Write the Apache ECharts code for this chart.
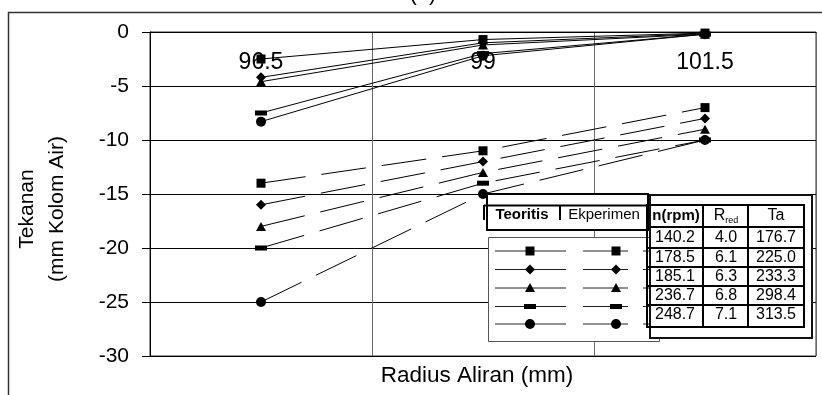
<!DOCTYPE html>
<html><head><meta charset="utf-8">
<script src="https://cdn.jsdelivr.net/npm/echarts@6/dist/echarts.min.js"></script>
<style>html,body{margin:0;padding:0;background:#fff}#c{width:822px;height:395px}</style>
</head><body><div id="c"></div>
<script>
// ---- data ----
const categories = ['96.5', '99', '101.5'];
// Teoritis (solid lines)
const teoritis1 = [-2.5, -0.7, -0.1];
const teoritis2 = [-4.2, -1.0, -0.15];
const teoritis3 = [-4.6, -1.2, -0.2];
const teoritis4 = [-7.5, -2.0, -0.2];
const teoritis5 = [-8.3, -2.2, -0.2];
// Eksperimen (dashed lines)
const eksperimen1 = [-14, -11, -7];
const eksperimen2 = [-16, -12, -8];
const eksperimen3 = [-18, -13, -9];
const eksperimen4 = [-20, -14, -10];
const eksperimen5 = [-25, -15, -10];
// table
const rpmValues = [140.2, 178.5, 185.1, 236.7, 248.7];
const rRedValues = [4.0, 6.1, 6.3, 6.8, 7.1];
const taValues = [176.7, 225.0, 233.3, 298.4, 313.5];
const yMin = -30, yMax = 0, yStep = 5;

const FONT = '"Liberation Sans", Arial, sans-serif';
const markers = [
  {symbol: 'rect', size: [9, 9]},
  {symbol: 'diamond', size: [10, 10]},
  {symbol: 'triangle', size: [10, 9]},
  {symbol: 'rect', size: [12, 5]},
  {symbol: 'circle', size: [10, 10]}
];
const teoritis = [teoritis1, teoritis2, teoritis3, teoritis4, teoritis5];
const eksperimen = [eksperimen1, eksperimen2, eksperimen3, eksperimen4, eksperimen5];

const series = [];
teoritis.forEach((d, i) => series.push({
  name: 'Teoritis ' + rpmValues[i], type: 'line', data: d,
  symbol: markers[i].symbol, symbolSize: markers[i].size,
  lineStyle: {color: '#000', width: 1, type: 'solid'},
  itemStyle: {color: '#000'}, z: 3
}));
eksperimen.forEach((d, i) => series.push({
  name: 'Eksperimen ' + rpmValues[i], type: 'line', data: d,
  symbol: markers[i].symbol, symbolSize: markers[i].size,
  lineStyle: {color: '#000', width: 1, type: [45, 16]},
  itemStyle: {color: '#000'}, z: 3
}));

// ---- legend / table graphics ----
const G = [];
const Z = 100;
function line(x1, y1, x2, y2, w, c) {
  G.push({type: 'line', z: Z, shape: {x1, y1, x2, y2}, style: {stroke: c || '#000', lineWidth: w || 1}});
}
function text(x, y, t, opts) {
  G.push({type: 'text', z: Z + 1, x, y, style: Object.assign({text: t, fill: '#000', fontSize: 16, fontFamily: FONT, align: 'center', verticalAlign: 'middle'}, opts || {})});
}
function marker(i, cx, cy) {
  const m = markers[i];
  const s = {fill: '#000'};
  if (m.symbol === 'rect') {
    G.push({type: 'rect', z: Z + 1, shape: {x: cx - m.size[0] / 2, y: cy - m.size[1] / 2, width: m.size[0], height: m.size[1]}, style: s});
  } else if (m.symbol === 'circle') {
    G.push({type: 'circle', z: Z + 1, shape: {cx, cy, r: m.size[0] / 2}, style: s});
  } else if (m.symbol === 'diamond') {
    const h = m.size[0] / 2;
    G.push({type: 'polygon', z: Z + 1, shape: {points: [[cx, cy - h], [cx + h, cy], [cx, cy + h], [cx - h, cy]]}, style: s});
  } else {
    G.push({type: 'polygon', z: Z + 1, shape: {points: [[cx, cy - 5], [cx + 5, cy + 4], [cx - 5, cy + 4]]}, style: s});
  }
}
// symbol box
G.push({type: 'rect', z: Z, shape: {x: 488.5, y: 237.5, width: 171, height: 104}, style: {fill: '#fff', stroke: '#555', lineWidth: 1}});
const rowY = [251, 269.5, 288, 306.5, 324];
rowY.forEach((y, i) => {
  line(495, y, 566, y, 1, '#222');
  marker(i, 530, y);
  line(583, y, 628, y, 1, '#222');
  marker(i, 616, y);
  line(643, y, 650, y, 1, '#222');
});
// header box
G.push({type: 'rect', z: Z, shape: {x: 487, y: 194, width: 161, height: 36}, style: {fill: '#fff', stroke: '#000', lineWidth: 2}});
line(484, 205.5, 648, 205.5, 2);
line(484, 205, 484, 220, 2);
line(560, 205, 560, 220, 2);
text(522, 215, 'Teoritis', {fontWeight: 'bold', fontSize: 15});
text(604, 215, 'Ekperimen', {fontSize: 15});
// table frame
G.push({type: 'rect', z: Z, shape: {x: 650, y: 195, width: 162, height: 143}, style: {fill: '#fff', stroke: '#111', lineWidth: 2}});
// inner table
G.push({type: 'rect', z: Z, shape: {x: 647, y: 205, width: 157, height: 122}, style: {fill: 'none', stroke: '#000', lineWidth: 2}});
line(703, 205, 703, 327, 2);
line(748, 205, 748, 327, 2);
const rowLines = [227, 248, 267, 286, 305];
rowLines.forEach(y => line(647, y, 804, y, 2));
const colX = [675, 726, 776];
text(colX[0] + 1, 216, 'n(rpm)', {fontWeight: 'bold', fontSize: 15});
G.push({type: 'text', z: Z + 1, x: colX[1], y: 216, style: {
  text: '{a|R}{b|red}', align: 'center', verticalAlign: 'middle', fontFamily: FONT,
  rich: {a: {fontSize: 16, fontFamily: FONT, fill: '#000', lineHeight: 18}, b: {fontSize: 9, fontFamily: FONT, fill: '#000', verticalAlign: 'bottom', lineHeight: 18, padding: [6, 0, 0, 0]}}
}});
text(colX[2], 216, 'Ta');
const rowCY = [237.5, 257.5, 276.5, 295.5, 315];
rpmValues.forEach((v, i) => {
  text(colX[0], rowCY[i], v.toFixed(1));
  text(colX[1], rowCY[i], rRedValues[i].toFixed(1));
  text(colX[2], rowCY[i], taValues[i].toFixed(1));
});
// outer frame, titles
G.push({type: 'rect', z: 0, shape: {x: 8.5, y: 12.5, width: 830, height: 400}, style: {fill: 'none', stroke: '#333', lineWidth: 1.5}});
text(423, 5, '(b)', {fontSize: 22, verticalAlign: 'bottom'});
text(477, 376, 'Radius Aliran (mm)', {fontSize: 22.5});
G.push({type: 'text', z: Z, x: 42, y: 209, rotation: Math.PI / 2, style: {
  text: 'Tekanan\n(mm Kolom Air)', fill: '#000', fontSize: 21, fontFamily: FONT, lineHeight: 30, align: 'center', verticalAlign: 'middle'
}});

const chart = echarts.init(document.getElementById('c'), null, {renderer: 'canvas'});
chart.setOption({
  animation: false,
  backgroundColor: '#fff',
  grid: {left: 150, right: 6, top: 32, bottom: 39, show: true, borderColor: '#333', borderWidth: 1, backgroundColor: 'transparent'},
  xAxis: {
    type: 'category', data: categories, position: 'top', boundaryGap: true,
    axisLine: {show: true, lineStyle: {color: '#000', width: 1}},
    axisTick: {show: false},
    axisLabel: {inside: true, margin: 19, fontSize: 23, color: '#000', fontFamily: FONT},
    splitLine: {show: true, lineStyle: {color: '#6a6a6a', width: 1}}
  },
  yAxis: {
    type: 'value', min: yMin, max: yMax, interval: yStep,
    axisLine: {show: true, lineStyle: {color: '#000', width: 1}},
    axisTick: {show: true, length: 8, lineStyle: {color: '#000'}},
    axisLabel: {margin: 21, fontSize: 21, color: '#000', fontFamily: FONT},
    splitLine: {show: true, lineStyle: {color: '#000', width: 1}}
  },
  series: series,
  graphic: G
});
</script>
</body></html>
